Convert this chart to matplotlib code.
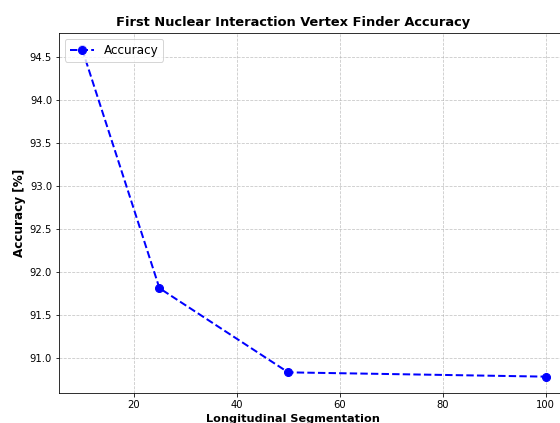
import matplotlib
matplotlib.use("Agg")
import matplotlib.pyplot as plt

segmentation = [10, 25, 50, 100]
accuracy = [94.59, 91.81, 90.83, 90.78]

fig = plt.figure(figsize=(560 / 72, 423 / 72), dpi=72)
ax = fig.add_axes([0.1054, 0.0709, 0.9103, 0.8511])

ax.plot(segmentation, accuracy, color="blue", linestyle="--", marker="o",
        linewidth=2, markersize=8, label="Accuracy")

# title and x label are centred on the full figure width, not on the axes
fig.suptitle("First Nuclear Interaction Vertex Finder Accuracy",
             x=293 / 560, y=0.962, va="top", fontsize=13, fontweight="bold")
ax.set_xlabel("Longitudinal Segmentation", fontsize=11.2, fontweight="bold")
ax.xaxis.set_label_coords(0.459, -0.057, transform=ax.transAxes)
ax.xaxis.label.set_va("top")
ax.set_ylabel("Accuracy [%]", fontsize=12, fontweight="bold")
ax.tick_params(labelsize=10)
ax.grid(True, linestyle="--", alpha=0.7)
ax.legend(loc="upper left", fontsize=12)

fig.savefig("out.png", dpi=72)
